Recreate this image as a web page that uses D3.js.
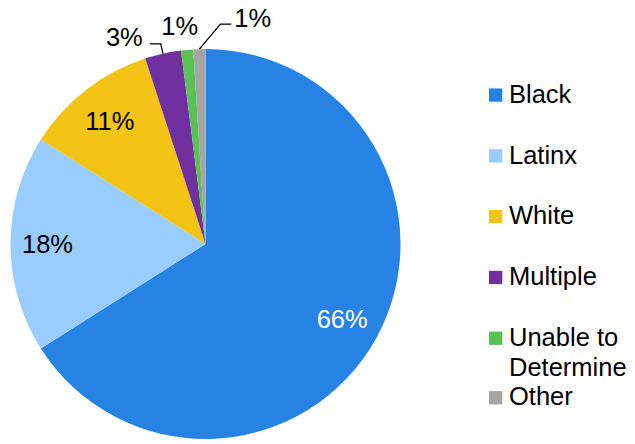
<!DOCTYPE html>
<html>
<head>
<meta charset="utf-8">
<script src="https://cdn.jsdelivr.net/npm/d3@7"></script>
<style>
  html, body { margin: 0; padding: 0; background: #fff; }
  svg { display: block; font-family: "Liberation Sans", Arial, sans-serif; }
</style>
</head>
<body>
<svg id="chart" width="635" height="444"></svg>
<script>
// Share of people by race/ethnicity (percent)
const categories = ["Black", "Latinx", "White", "Multiple", "Unable to Determine", "Other"];
const shares = [66, 18, 11, 3, 1, 1];
const legendLabels = [["Black"], ["Latinx"], ["White"], ["Multiple"], ["Unable to", "Determine"], ["Other"]];
const palette = ["#2683E4", "#99CCFF", "#F3C415", "#7030A0", "#5BC157", "#A5A5A5"];

const data = categories.map((c, i) => ({ category: c, value: shares[i], lines: legendLabels[i] }));

const svg = d3.select("#chart");
const cx = 205.5, cy = 244, radius = 195;
const fontSize = 25.5;

const pie = d3.pie().value(d => d.value).sort(null);
const arcs = pie(data);
const arc = d3.arc().innerRadius(0).outerRadius(radius);
const color = d3.scaleOrdinal().domain(categories).range(palette);

const g = svg.append("g").attr("transform", `translate(${cx},${cy})`);

g.selectAll("path.slice")
  .data(arcs)
  .join("path")
  .attr("class", "slice")
  .attr("d", arc)
  .attr("fill", d => color(d.data.category));

// polar helper: angle measured clockwise from 12 o'clock
const polar = (a, r) => [r * Math.sin(a), -r * Math.cos(a)];
const mid = d => (d.startAngle + d.endAngle) / 2;
const fmt = v => d3.format(".0f")(v) + "%";

// Label placement for each slice
const labelLayout = {
  "Black":    { type: "inside", r: 156, fill: "#fff" },
  "Latinx":   { type: "inside", r: 158, fill: "#000" },
  "White":    { type: "inside", r: 156, fill: "#000" },
  "Multiple": { type: "leader", elbowR: 205, run: -11, gap: -7, anchor: "end" },
  "Unable to Determine": { type: "outside", r: 221, dx: -5, dy: 1.5 },
  "Other":    { type: "leaderOffset", elbow: [21, -25], run: 11, gap: 3, anchor: "start" }
};

const labels = g.append("g");
const leaders = g.append("g").attr("fill", "none").attr("stroke", "#000").attr("stroke-width", 1.3);

arcs.forEach(d => {
  const lay = labelLayout[d.data.category];
  const a = mid(d);
  const txt = fmt(d.data.value);
  if (lay.type === "inside" || lay.type === "outside") {
    const [x, y] = polar(a, lay.r);
    labels.append("text")
      .attr("x", x + (lay.dx || 0)).attr("y", y + (lay.dy || 0))
      .attr("dy", "0.36em")
      .attr("text-anchor", "middle")
      .attr("font-size", fontSize)
      .attr("fill", lay.fill || "#000")
      .text(txt);
  } else {
    const p0 = polar(a, radius);
    let p1;
    if (lay.type === "leader") p1 = polar(a, lay.elbowR);
    else p1 = [p0[0] + lay.elbow[0], p0[1] + lay.elbow[1]];
    const p2 = [p1[0] + lay.run, p1[1]];
    leaders.append("polyline").attr("points", [p0, p1, p2].map(p => p.join(",")).join(" "));
    labels.append("text")
      .attr("x", p2[0] + lay.gap).attr("y", p2[1] + 2.5)
      .attr("text-anchor", lay.anchor)
      .attr("font-size", fontSize)
      .attr("fill", "#000")
      .text(txt);
  }
});

// Legend
const legendX = 489, textX = 509, firstBaseline = 102.7, rowGap = 60.8, lineGap = 30, afterWrapGap = 29.5;
let baseline = firstBaseline;
const legend = svg.append("g");
data.forEach((d, i) => {
  if (i > 0) {
    const prev = data[i - 1];
    baseline += prev.lines.length > 1 ? (prev.lines.length - 1) * lineGap + afterWrapGap : rowGap;
  }
  legend.append("rect")
    .attr("x", legendX).attr("y", baseline - 14.3)
    .attr("width", 13.3).attr("height", 13.3)
    .attr("fill", color(d.category));
  const t = legend.append("text")
    .attr("x", textX).attr("y", baseline)
    .attr("font-size", fontSize)
    .attr("fill", "#000");
  d.lines.forEach((ln, j) => {
    t.append("tspan").attr("x", textX).attr("y", baseline + j * lineGap).text(ln);
  });
});
</script>
</body>
</html>
